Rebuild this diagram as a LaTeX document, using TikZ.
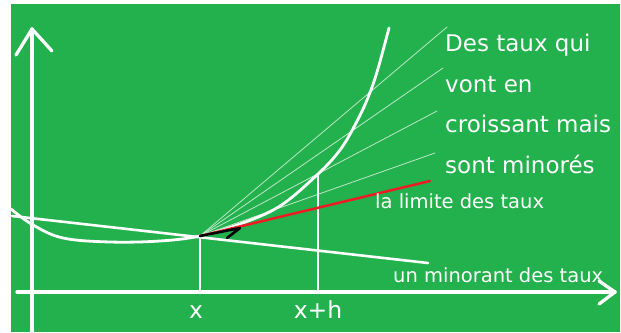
\documentclass[tikz,border=0pt]{standalone}
\usepackage{fontspec}
\setmainfont{DejaVu Sans}
\usepackage{xcolor}
\usetikzlibrary{arrows.meta,calc}
\definecolor{boardGreen}{HTML}{22B14C}
\definecolor{chalkRed}{HTML}{ED1C24}

\begin{document}
\begin{tikzpicture}[x=1pt,y=-1pt,line cap=round,line join=round,
  chalk/.style={draw=white,line width=3.3pt},
  fine/.style={draw=white,line width=2.3pt},
  secant/.style={draw=white,line width=0.8pt,opacity=0.7},
  big/.style={text=white,anchor=base west,inner sep=0pt,font=\fontsize{23}{27}\selectfont},
  small/.style={text=white,anchor=base west,inner sep=0pt,font=\fontsize{19.5}{23}\selectfont},
  tick/.style={text=white,anchor=base,inner sep=0pt,font=\fontsize{23.5}{28}\selectfont}]
\useasboundingbox (0,0) rectangle (621,332);
\fill[boardGreen] (11,4) rectangle (620,332);
% axes
\coordinate (yb) at (32,332);
\coordinate (yt) at (32,29);
\coordinate (xl) at (17,292);
\coordinate (xr) at (615,292);
\draw[chalk] (yb) -- (yt);
\draw[chalk] (16,55) -- (yt) -- (52,51);
\draw[chalk] (xl) -- (xr);
\draw[chalk] (599,281) -- (xr) -- (599,304);
% the curve
\coordinate (P) at (200,236);
\coordinate (Q) at (318,174);
\draw[chalk,line width=2.8pt] plot[smooth,tension=0.6] coordinates
  {(11,209) (33,225) (63,238) (110,242) (160,241) (P) (240,224) (280,206)
   (Q) (340,150) (355,125) (367,100) (377,72) (389,28)};
% verticals at x and x+h
\node[tick] (tx) at (196,318) {x};
\node[tick] (txh) at (318,318) {x+h};
\draw[fine] (P) -- (P |- xl);
\draw[fine] (Q) -- (Q |- xl);
% minorant
\coordinate (m1) at (12,216);
\coordinate (m2) at (428,263);
\draw[fine,line width=2.6pt] (m1) -- (m2);
% secants
\foreach \e in {(447,27),(443,68),(437,111),(435,153)}
  \draw[secant] (P) -- \e;
% limit
\coordinate (L) at (430,181);
\draw[chalkRed,line width=2.5pt] (P) -- (L);
\coordinate (tip) at (240,228);
\draw[black,line width=2.6pt] (P) -- (tip) -- (227,238);
% texts
\node[big] (d1) at (445,51) {Des taux qui};
\node[big] (d2) at (445,92) {vont en};
\node[big] (d3) at (445,132) {croissant mais};
\node[big] (d4) at (445,173) {sont minorés};
\node[small] (lim) at (375,208) {la limite des taux};
\node[small] (mino) at (393,282) {un minorant des taux};
\end{tikzpicture}
\end{document}
